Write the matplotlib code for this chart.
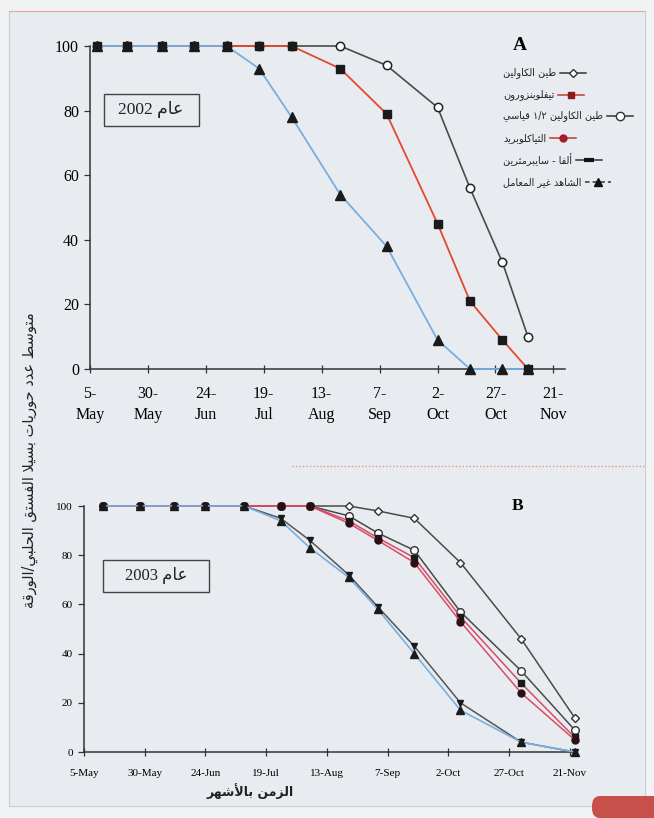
import re
import pandas as pd
import matplotlib
matplotlib.use("Agg")
import matplotlib.pyplot as plt
from matplotlib.lines import Line2D
from matplotlib.patches import Rectangle, FancyBboxPatch

# ---------------- data ----------------
tick_dates_2002 = ["2002-05-05", "2002-05-30", "2002-06-24", "2002-07-19", "2002-08-13",
                   "2002-09-07", "2002-10-02", "2002-10-27", "2002-11-21"]
tick_dates_2003 = ["2003-05-05", "2003-05-30", "2003-06-24", "2003-07-19", "2003-08-13",
                   "2003-09-07", "2003-10-02", "2003-10-27", "2003-11-21"]
tick_labels_a = ["5-\nMay", "30-\nMay", "24-\nJun", "19-\nJul", "13-\nAug",
                 "7-\nSep", "2-\nOct", "27-\nOct", "21-\nNov"]
tick_labels_b = ["5-May", "30-May", "24-Jun", "19-Jul", "13-Aug",
                 "7-Sep", "2-Oct", "27-Oct", "21-Nov"]

dates_2002 = ["2002-05-08", "2002-05-21", "2002-06-05", "2002-06-19", "2002-07-03",
              "2002-07-17", "2002-07-31", "2002-08-21", "2002-09-10", "2002-10-02",
              "2002-10-16", "2002-10-30", "2002-11-10"]
kaolin_2002 = [100, 100, 100, 100, 100, 100, 100, 100, 94, 81, 56, 33, 10]
teflu_2002 = [100, 100, 100, 100, 100, 100, 100, 93, 79, 45, 21, 9, 0]
control_2002 = [100, 100, 100, 100, 100, 93, 78, 54, 38, 9, 0, 0, 0]

dates_2003 = ["2003-05-13", "2003-05-28", "2003-06-11", "2003-06-24", "2003-07-10",
              "2003-07-25", "2003-08-06", "2003-08-22", "2003-09-03", "2003-09-18",
              "2003-10-07", "2003-11-01", "2003-11-23"]
kaolin_2003 = [100, 100, 100, 100, 100, 100, 100, 100, 98, 95, 77, 46, 14]
kaolin_half_2003 = [100, 100, 100, 100, 100, 100, 100, 96, 89, 82, 57, 33, 9]
teflu_2003 = [100, 100, 100, 100, 100, 100, 100, 94, 87, 79, 55, 28, 6]
thiacl_2003 = [100, 100, 100, 100, 100, 100, 100, 93, 86, 77, 53, 24, 5]
alpha_2003 = [100, 100, 100, 100, 100, 95, 86, 72, 59, 43, 20, 4, 0]
control_2003 = [100, 100, 100, 100, 100, 94, 83, 71, 58, 40, 17, 4, 0]

y_ticks = [0, 20, 40, 60, 80, 100]

series_names = ["طين الكاولين", "تيفلوبنزورون", "طين الكاولين ١/٢ قياسي",
                "الثياكلوبريد", "ألفا - سايبرمثرين", "الشاهد غير المعامل"]
ylabel_text = "متوسط عدد حوريات بسيلا الفستق الحلبي/الورقة"
xlabel_text = "الزمن بالأشهر"
year_a_text = "عام 2002"
year_b_text = "عام 2003"

# ---------------- Arabic shaping (presentation forms + visual order) ----------------
_RIGHT = {"آ": 0xFE81, "أ": 0xFE83, "ؤ": 0xFE85, "إ": 0xFE87, "ا": 0xFE8D, "ة": 0xFE93,
          "د": 0xFEA9, "ذ": 0xFEAB, "ر": 0xFEAD, "ز": 0xFEAF, "و": 0xFEED, "ى": 0xFEEF}
_DUAL = {"ئ": 0xFE89, "ب": 0xFE8F, "ت": 0xFE95, "ث": 0xFE99, "ج": 0xFE9D, "ح": 0xFEA1,
         "خ": 0xFEA5, "س": 0xFEB1, "ش": 0xFEB5, "ص": 0xFEB9, "ض": 0xFEBD, "ط": 0xFEC1,
         "ظ": 0xFEC5, "ع": 0xFEC9, "غ": 0xFECD, "ف": 0xFED1, "ق": 0xFED5, "ك": 0xFED9,
         "ل": 0xFEDD, "م": 0xFEE1, "ن": 0xFEE5, "ه": 0xFEE9, "ي": 0xFEF1}
_LAM_ALEF = {"آ": 0xFEF5, "أ": 0xFEF7, "إ": 0xFEF9, "ا": 0xFEFB}
_TATWEEL = "\u0640"


def _joins_next(c):
    return c is not None and (c in _DUAL or c == _TATWEEL)


def _joinable(c):
    return c is not None and (c in _DUAL or c in _RIGHT or c == _TATWEEL)


def _shape(text):
    out = []
    n = len(text)
    i = 0
    while i < n:
        c = text[i]
        prev = text[i - 1] if i > 0 else None
        nxt = text[i + 1] if i + 1 < n else None
        if c == "ل" and nxt in _LAM_ALEF:
            out.append(chr(_LAM_ALEF[nxt] + (1 if _joins_next(prev) else 0)))
            i += 2
            continue
        if c in _DUAL:
            cp = _joins_next(prev)
            cn = _joinable(nxt)
            idx = 3 if (cp and cn) else 1 if cp else 2 if cn else 0
            out.append(chr(_DUAL[c] + idx))
        elif c in _RIGHT:
            out.append(chr(_RIGHT[c] + (1 if _joins_next(prev) else 0)))
        else:
            out.append(c)
        i += 1
    return "".join(out)


_LTR_RUN = r"[0-9A-Za-z\u0660-\u0669\u06F0-\u06F9]+(?:[/.][0-9A-Za-z\u0660-\u0669\u06F0-\u06F9]+)*|."


def ar(text):
    runs = re.findall(_LTR_RUN, _shape(text))
    return "".join(reversed(runs))


# ---------------- styling ----------------
BG = "#e8ecf0"
SERIF = ["Liberation Serif", "DejaVu Serif"]
AR_FONT = ["DejaVu Sans"]
MIX = ["Liberation Serif", "DejaVu Sans"]
BLUE = "#78aee0"
RED_A = "#e4492c"
RED_B = "#d84c66"
DARK = "#4a4a4a"

plt.rcParams["font.family"] = MIX

W, H = 654, 818
fig = plt.figure(figsize=(W / 100, H / 100), dpi=100, facecolor="#f1f2f3")


def fx(px):
    return px / W


def fy(py):
    return 1 - py / H


# page panel
fig.patches.append(Rectangle((fx(9), fy(806)), fx(645) - fx(9), fy(11) - fy(806),
                             transform=fig.transFigure, facecolor=BG,
                             edgecolor="#c9cdd2", linewidth=0.8, zorder=-10))
fig.lines.append(Line2D([fx(9), fx(645)], [fy(11), fy(11)], transform=fig.transFigure,
                        color="#e4a9a4", linewidth=0.8))
# separator between panels
fig.lines.append(Line2D([fx(292), fx(645)], [fy(466), fy(466)], transform=fig.transFigure,
                        color="#d79a8c", linewidth=1.0, linestyle=(0, (1, 1.5))))
# page tag
fig.patches.append(FancyBboxPatch((fx(592), fy(818)), fx(680) - fx(592), fy(796) - fy(818),
                                  boxstyle="round,pad=0,rounding_size=0.012",
                                  transform=fig.transFigure, facecolor="#c8504a",
                                  edgecolor="none", zorder=-5))


def style_axes(ax, tick_dates, tick_labels, label_size, pad_x, pad_y, spacing=1.2):
    ax.set_facecolor("none")
    for s in ("top", "right"):
        ax.spines[s].set_visible(False)
    for s in ("left", "bottom"):
        ax.spines[s].set_color("#333333")
        ax.spines[s].set_linewidth(1.1)
    ax.set_xticks(pd.to_datetime(tick_dates))
    ax.set_xticklabels(tick_labels, fontfamily=SERIF, fontsize=label_size,
                       linespacing=spacing)
    ax.set_yticks(y_ticks)
    ax.set_yticklabels([str(v) for v in y_ticks], fontfamily=SERIF, fontsize=label_size)
    ax.tick_params(axis="x", direction="inout", length=6, width=0.9, color="#333333",
                   pad=pad_x)
    ax.tick_params(axis="y", direction="out", length=4, width=0.9, color="#333333",
                   pad=pad_y)
    ax.set_ylim(0, 100)


# ---------------- panel A (2002) ----------------
axA = fig.add_axes([fx(90), fy(369), fx(565) - fx(90), fy(46) - fy(369)])
mk = dict(clip_on=False)
d2 = pd.to_datetime(dates_2002)
axA.plot(d2, kaolin_2002, color=DARK, lw=1.2, marker="o",
         ms=6, mfc="white", mec="#222222", mew=1.1, zorder=3, **mk)
# treated line under the control line, its square markers on top
axA.plot(d2, teflu_2002, color=RED_A, lw=1.3, zorder=3.3, **mk)
axA.plot(d2, control_2002, color=BLUE, lw=1.3, marker="^",
         ms=7, mfc="#1a1a1a", mec="#1a1a1a", zorder=3.5, **mk)
axA.plot(d2, teflu_2002, ls="none", marker="s", ms=6, mfc="#1a1a1a",
         mec="#1a1a1a", zorder=4, **mk)
axA.set_xlim(pd.Timestamp("2002-05-05"), pd.Timestamp("2002-05-05") + pd.Timedelta(days=205))
style_axes(axA, tick_dates_2002, tick_labels_a, 11.5, 9, 4, spacing=1.45)

fig.text(fx(520), fy(46), "A", fontfamily=SERIF, fontsize=14, fontweight="bold",
         ha="center", va="center")

# year box A
fig.patches.append(Rectangle((fx(104), fy(126)), fx(199) - fx(104), fy(94) - fy(126),
                             transform=fig.transFigure, facecolor="none",
                             edgecolor="#444444", linewidth=1.0))
fig.text(fx(151), fy(110), ar(year_a_text), fontfamily=MIX, fontsize=12.5,
         ha="center", va="center", color="#222222")

# legend: label text on the left, line-and-marker sample right after it
legend_styles = [
    dict(color="#333333", marker="D", ms=4, mfc="white", mec="#333333"),
    dict(color="#c0392b", marker="s", ms=5, mfc="#8b1a1a", mec="#8b1a1a"),
    dict(color="#333333", marker="o", ms=6, mfc="white", mec="#333333"),
    dict(color="#c0392b", marker="o", ms=5, mfc="#a11d2a", mec="#a11d2a"),
    dict(color="#333333", marker="_", ms=7, mew=3, mec="#111111"),
    dict(color="#333333", marker="^", ms=6, mfc="#111111", mec="#111111", ls=(0, (3, 2))),
]
legend_y = [73, 95, 116, 138, 160, 182]
renderer = fig.canvas.get_renderer()
for name, st, ly in zip(series_names, legend_styles, legend_y):
    t = fig.text(fx(503), fy(ly), ar(name), fontfamily=AR_FONT, fontsize=7,
                 ha="left", va="center", color="#222222")
    x_end = t.get_window_extent(renderer).x1  # pixels
    x0, x1 = x_end + 4, x_end + 30
    ls = st.get("ls", "-")
    fig.lines.append(Line2D([fx(x0), fx(x1)], [fy(ly), fy(ly)], transform=fig.transFigure,
                            linestyle=ls, linewidth=1.1, color=st["color"]))
    fig.lines.append(Line2D([fx((x0 + x1) / 2)], [fy(ly)], transform=fig.transFigure,
                            linestyle="none", marker=st["marker"], markersize=st["ms"],
                            markerfacecolor=st.get("mfc", "none"),
                            markeredgecolor=st.get("mec", "#111111"),
                            markeredgewidth=st.get("mew", 1.0)))

# ---------------- panel B (2003) ----------------
axB = fig.add_axes([fx(84), fy(752), fx(577) - fx(84), fy(506) - fy(752)])
d3 = pd.to_datetime(dates_2003)
axB.plot(d3, kaolin_2003, color=DARK, lw=1.1, marker="D", ms=4.5, mfc="white",
         mec="#333333", mew=1.0, zorder=3, **mk)
axB.plot(d3, kaolin_half_2003, color=DARK, lw=1.1, marker="o", ms=5.5, mfc="white",
         mec="#333333", mew=1.0, zorder=3.2, **mk)
axB.plot(d3, alpha_2003, color="#555555", lw=1.1, marker="v", ms=5, mfc="#1a1a1a",
         mec="#1a1a1a", zorder=3.1, **mk)
axB.plot(d3, teflu_2003, color=RED_B, lw=1.1, marker="s", ms=4.5, mfc="#1a1a1a",
         mec="#1a1a1a", zorder=3.4, **mk)
axB.plot(d3, thiacl_2003, color=RED_B, lw=1.1, marker="o", ms=5, mfc="#2a1015",
         mec="#2a1015", zorder=3.5, **mk)
axB.plot(d3, control_2003, color=BLUE, lw=1.2, marker="^", ms=5.5, mfc="#1a1a1a",
         mec="#1a1a1a", zorder=3.6, **mk)
axB.set_xlim(pd.Timestamp("2003-05-05"), pd.Timestamp("2003-05-05") + pd.Timedelta(days=203))
style_axes(axB, tick_dates_2003, tick_labels_b, 8, 9, 4)

fig.text(fx(518), fy(506), "B", fontfamily=SERIF, fontsize=12.5, fontweight="bold",
         ha="center", va="center")

fig.patches.append(Rectangle((fx(103), fy(592)), fx(209) - fx(103), fy(560) - fy(592),
                             transform=fig.transFigure, facecolor="none",
                             edgecolor="#444444", linewidth=1.0))
fig.text(fx(156), fy(576), ar(year_b_text), fontfamily=MIX, fontsize=12,
         ha="center", va="center", color="#222222")

# shared axis titles
fig.text(fx(30), fy(460), ar(ylabel_text), fontfamily=AR_FONT, fontsize=10.5,
         rotation=90, ha="center", va="center", color="#222222")
fig.text(fx(250), fy(791), ar(xlabel_text), fontfamily=AR_FONT, fontsize=9,
         fontweight="bold", ha="center", va="center", color="#222222")

fig.savefig("out.png", dpi=100, facecolor=fig.get_facecolor())
